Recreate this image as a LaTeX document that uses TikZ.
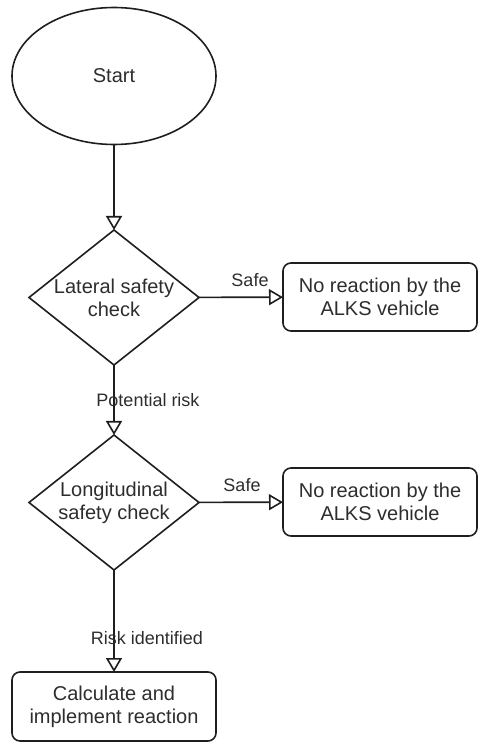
\documentclass[tikz,border=0pt]{standalone}
\usepackage{fontspec}
\setmainfont{Liberation Sans}
\usetikzlibrary{shapes.geometric,arrows.meta}
\definecolor{txt}{RGB}{45,45,45}
\definecolor{ln}{RGB}{30,30,30}
\tikzset{
  every node/.style={outer sep=0pt, text=txt},
  base/.style={draw=ln, line width=1.6pt, inner sep=0pt, align=center,
    font=\fontsize{20}{23}\selectfont},
  startnode/.style={base, ellipse, minimum width=204pt, minimum height=137pt},
  decision/.style={base, diamond, aspect=1.26, minimum width=170pt, minimum height=135pt},
  procbox/.style={base, rectangle, rounded corners=8pt, minimum width=194pt, minimum height=68pt},
  edgelbl/.style={font=\fontsize{18}{21}\selectfont, inner sep=0pt},
  arr/.style={draw=ln, line width=1.6pt, -{Triangle[open, length=14pt, width=16pt]}},
}
\begin{document}
\begin{tikzpicture}[x=1pt, y=-1pt]
\useasboundingbox (0,0) rectangle (478,743);
\node[startnode] (start) at (114,76) {Start};
\node[decision, label={[base, draw=none]center:Lateral safety\\check}] (d1) at (114,297.5) {};
\node[procbox] (r1) at (380,297) {No reaction by the\\ALKS vehicle};
\node[decision, label={[base, draw=none]center:Longitudinal\\safety check}] (d2) at (114,502.5) {};
\node[procbox] (r2) at (380,502) {No reaction by the\\ALKS vehicle};
\node[procbox, minimum width=204pt, minimum height=69pt] (calc) at (114,706.5) {Calculate and\\implement reaction};
\draw[arr] (start) -- (d1);
\draw[arr] (d1) -- (r1);
\draw[arr] (d1) -- (d2);
\draw[arr] (d2) -- (r2);
\draw[arr] (d2) -- (calc);
\node[edgelbl] (l1) at (250,280) {Safe};
\node[edgelbl] (l2) at (148,400) {Potential risk};
\node[edgelbl] (l3) at (242,485) {Safe};
\node[edgelbl] (l4) at (147,638) {Risk identified};
\end{tikzpicture}
\end{document}
